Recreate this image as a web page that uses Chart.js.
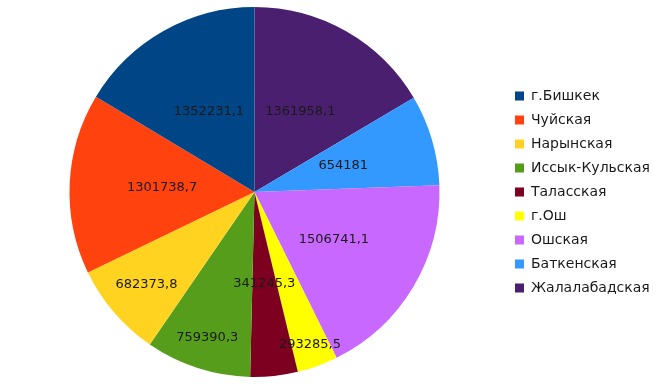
<!DOCTYPE html>
<html>
<head>
<meta charset="utf-8">
<script src="https://cdn.jsdelivr.net/npm/chart.js@4.4.0/dist/chart.umd.min.js"></script>
<style>
  html, body { margin: 0; padding: 0; background: #fff; }
  #wrap { width: 670px; height: 386px; position: relative; }
</style>
</head>
<body>
<div id="wrap"><canvas id="pieChart"></canvas></div>
<script>
// legend order (slices run counter-clockwise from 12 o'clock in this order)
const REGIONS = [
  'г.Бишкек', 'Чуйская', 'Нарынская', 'Иссык-Кульская', 'Таласская',
  'г.Ош', 'Ошская', 'Баткенская', 'Жалалабадская',
];
const VALUES = [
  1352231.1, 1301738.7, 682373.8, 759390.3, 341245.3,
  293285.5, 1506741.1, 654181, 1361958.1,
];
const VALUE_TEXT = [
  '1352231,1', '1301738,7', '682373,8', '759390,3', '341245,3',
  '293285,5', '1506741,1', '654181', '1361958,1',
];
const COLORS = [
  '#004586', '#ff420e', '#ffd320', '#579d1c', '#7e0021',
  '#ffff00', '#c968ff', '#3399ff', '#4b1f6f',
];

// Chart.js draws clockwise, so feed it reversed copies
const rev = (a) => a.slice().reverse();

// how far out (share of radius) each value sits; small slices got pushed outward
const LABEL_DIST = {
  'Нарынская': 0.77, 'Иссык-Кульская': 0.83, 'г.Ош': 0.88,
};

const sliceLabels = {
  id: 'sliceLabels',
  afterDatasetsDraw(chart) {
    const ctx   = chart.ctx;
    const meta  = chart.getDatasetMeta(0);
    const txt   = rev(VALUE_TEXT);
    const names = rev(REGIONS);
    ctx.save();
    ctx.font         = '13px "DejaVu Sans", sans-serif';
    ctx.fillStyle    = '#1a1a1a';
    ctx.textAlign    = 'center';
    ctx.textBaseline = 'middle';
    meta.data.forEach((arc, i) => {
      const mid = (arc.startAngle + arc.endAngle) / 2;
      const r   = arc.outerRadius * (LABEL_DIST[names[i]] || 0.5);
      ctx.fillText(txt[i], arc.x + Math.cos(mid) * r, arc.y + Math.sin(mid) * r);
    });
    ctx.restore();
  },
};

new Chart(document.getElementById('pieChart'), {
  type: 'pie',
  data: {
    labels: rev(REGIONS),
    datasets: [{
      data:            rev(VALUES),
      backgroundColor: rev(COLORS),
      borderWidth:     0,
    }],
  },
  options: {
    responsive:          true,
    maintainAspectRatio: false,
    animation:           false,
    layout: { padding: { top: 7, bottom: 9, left: 4, right: 10 } },
    plugins: {
      tooltip: { enabled: false },
      legend: {
        position: 'right',
        align:    'center',
        reverse:  true,
        labels: {
          boxWidth:  9,
          boxHeight: 9,
          padding:   10,
          color:     '#1a1a1a',
          font:      { family: '"DejaVu Sans", sans-serif', size: 14 },
        },
      },
    },
  },
  plugins: [sliceLabels],
});
</script>
</body>
</html>
